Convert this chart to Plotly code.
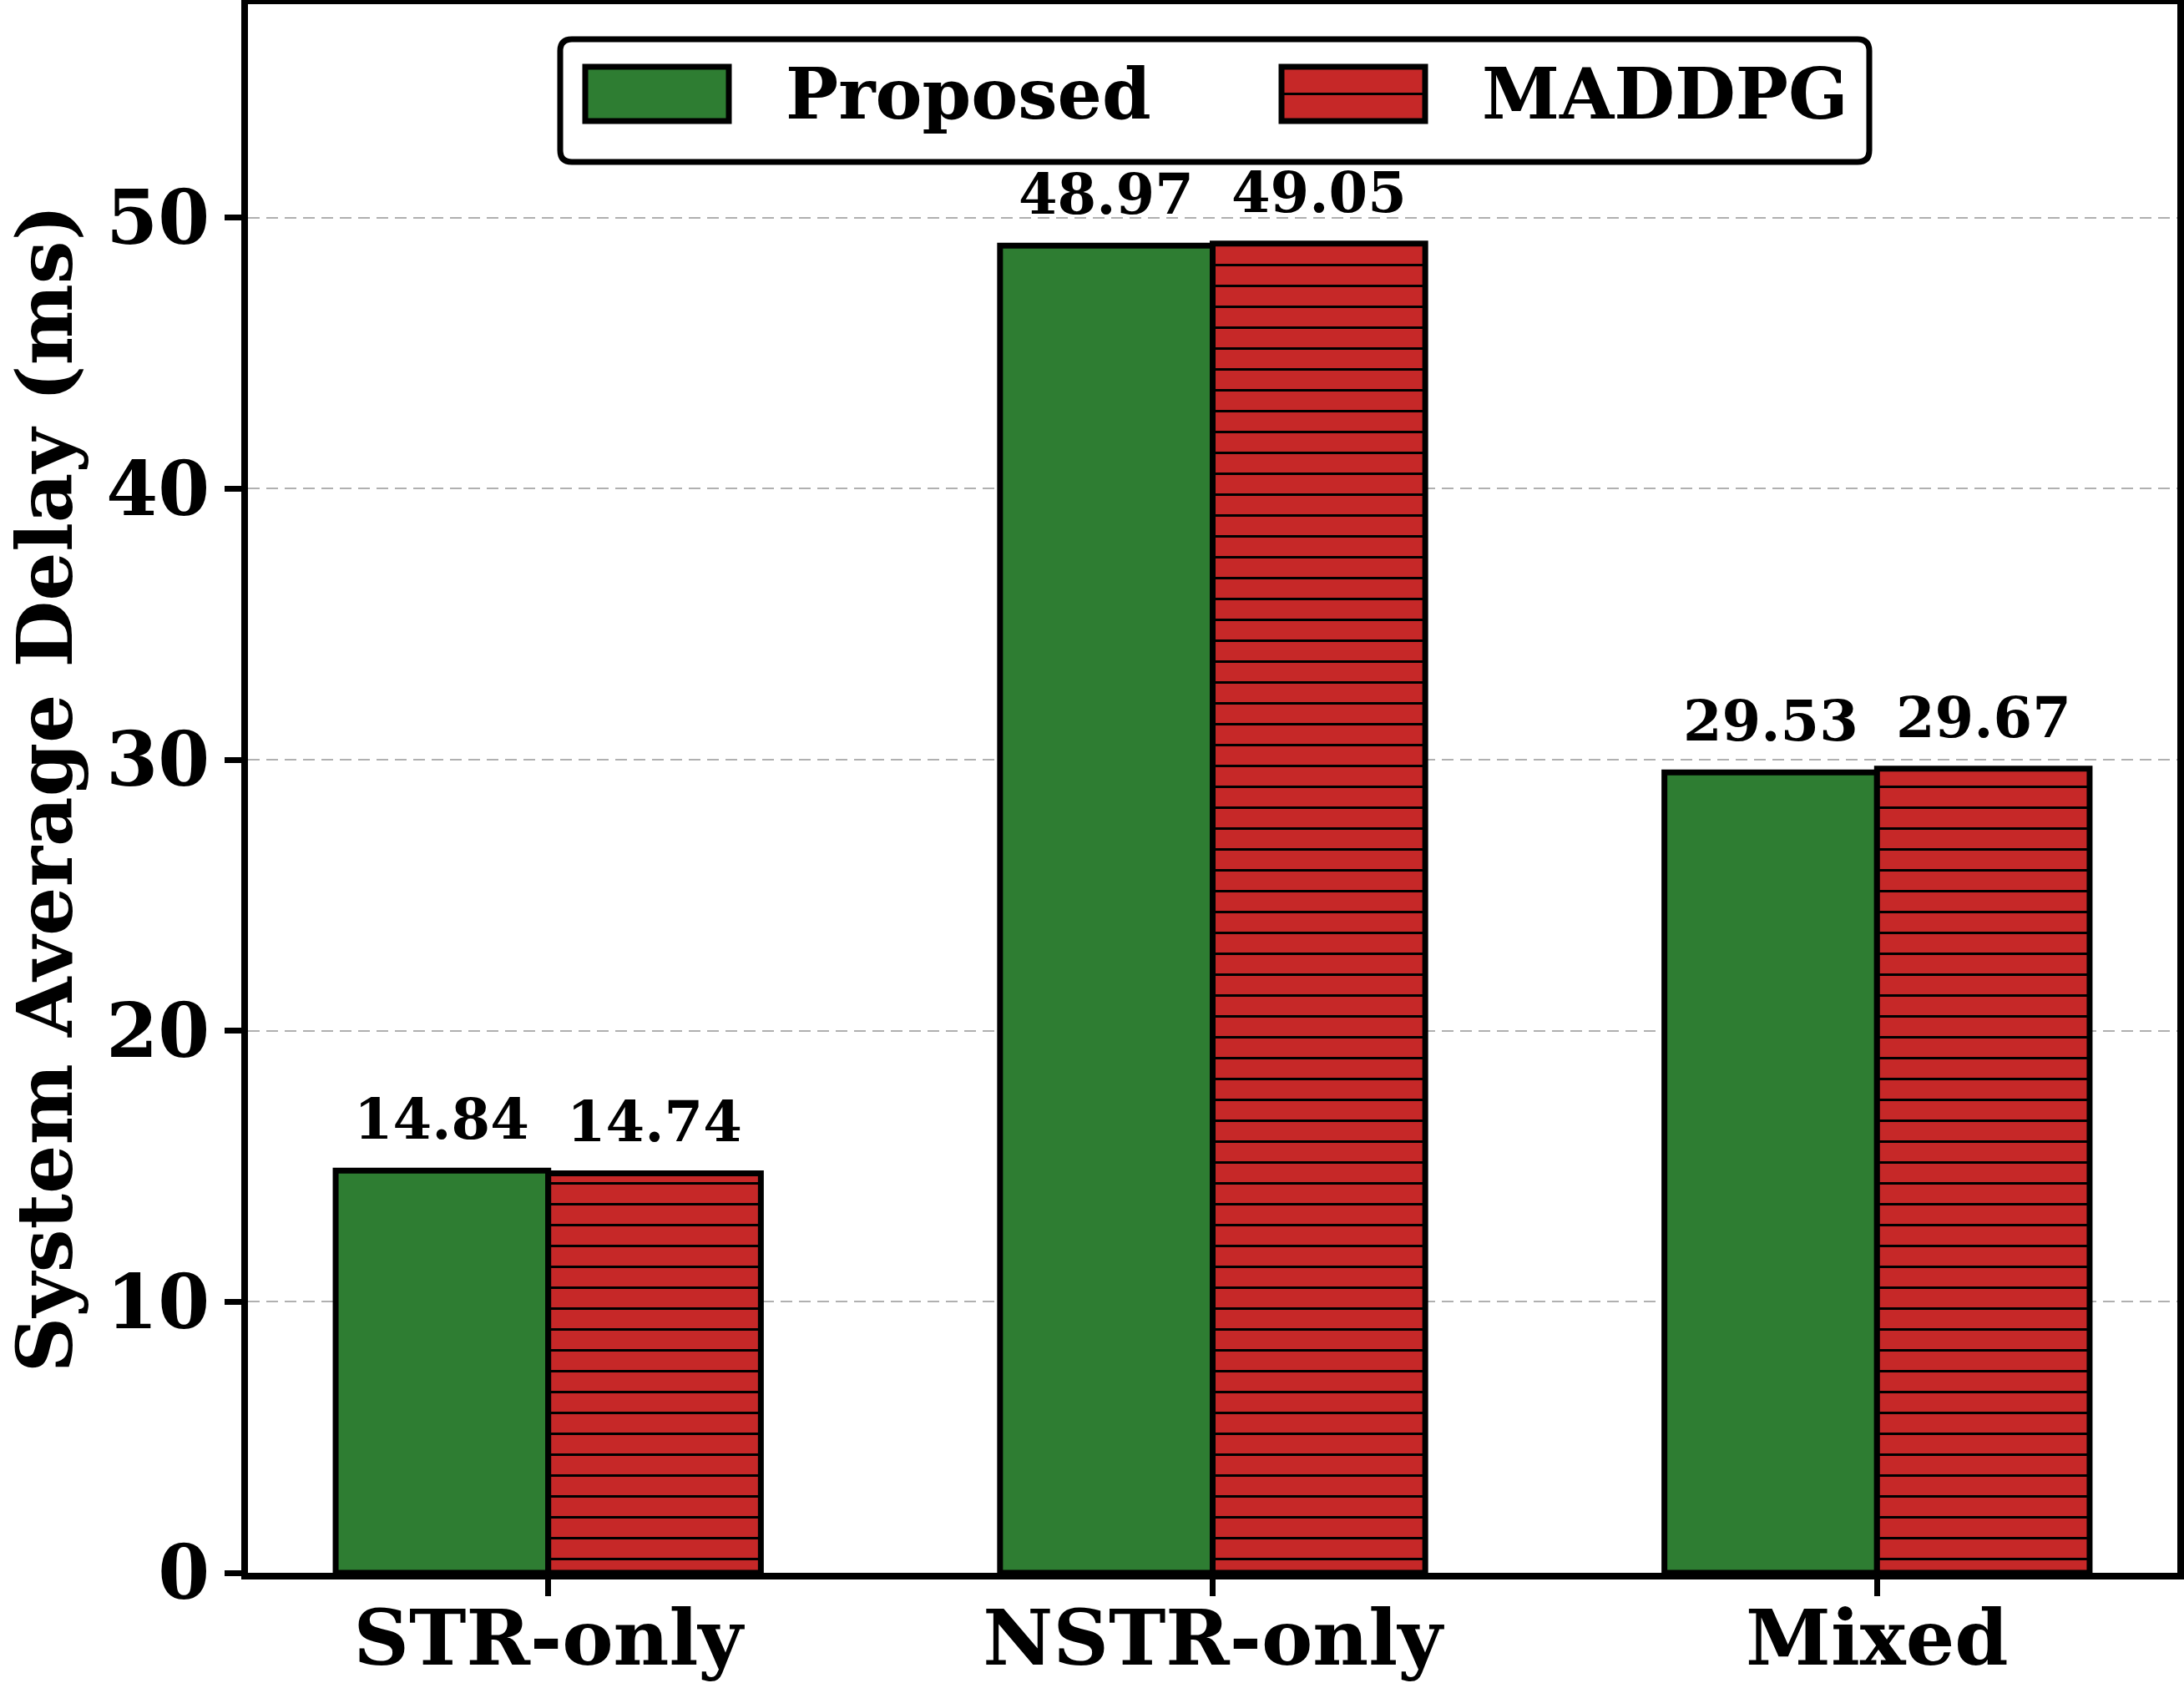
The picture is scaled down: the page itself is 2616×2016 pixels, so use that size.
import plotly.graph_objects as go

# ---- data ----
categories = ["STR-only", "NSTR-only", "Mixed"]
proposed = [14.84, 48.97, 29.53]
maddpg = [14.74, 49.05, 29.67]
series_names = ["Proposed", "MADDPG"]
y_ticks = [0, 10, 20, 30, 40, 50]

GREEN = "#2E7D32"
RED = "#C62828"
FONT = "DejaVu Serif"

W, H = 2616, 2016
L, R, T, B = 297, 8, 5, 132
PW, PH = W - L - R, H - T - B

BAR_W = 0.32
xpos = list(range(len(categories)))
ymax = max(max(proposed), max(maddpg)) * 1.18

fig = go.Figure()
fig.add_trace(go.Bar(
    x=xpos, y=proposed, name=series_names[0], width=BAR_W, offset=-BAR_W,
    marker=dict(color=GREEN, line=dict(color="black", width=7)),
    showlegend=False,
))
fig.add_trace(go.Bar(
    x=xpos, y=maddpg, name=series_names[1], width=BAR_W, offset=0,
    marker=dict(color=RED, line=dict(color="black", width=7),
                pattern=dict(shape="-", size=25, solidity=0.12,
                             fgcolor="black", fgopacity=1, fillmode="overlay")),
    showlegend=False,
))

annotations = []
for i in xpos:
    for val, dx in ((proposed[i], -BAR_W / 2), (maddpg[i], BAR_W / 2)):
        annotations.append(dict(
            x=i + dx, y=val, xref="x", yref="y", text=f"{val:.2f}",
            showarrow=False, yanchor="bottom", xanchor="center", yshift=20,
            font=dict(family=FONT, size=67, color="black", weight="bold"),
        ))

# ---- custom legend (paper coords from pixel positions) ----
def px_x(p):
    return (p - L) / PW

def px_y(p):
    return (H - B - p) / PH

shapes = []
bx0, bx1, by0, by1 = px_x(671), px_x(2239), px_y(47), px_y(194)
rx, ry = 14 / PW, 14 / PH
path = (f"M{bx0+rx},{by0} L{bx1-rx},{by0} Q{bx1},{by0} {bx1},{by0-ry} "
        f"L{bx1},{by1+ry} Q{bx1},{by1} {bx1-rx},{by1} L{bx0+rx},{by1} "
        f"Q{bx0},{by1} {bx0},{by1+ry} L{bx0},{by0-ry} Q{bx0},{by0} {bx0+rx},{by0} Z")
shapes.append(dict(type="path", xref="paper", yref="paper", path=path,
                   fillcolor="white", line=dict(color="black", width=7), layer="above"))
sy0, sy1 = px_y(80), px_y(145)
shapes.append(dict(type="rect", xref="paper", yref="paper", x0=px_x(701), x1=px_x(873),
                   y0=sy0, y1=sy1, fillcolor=GREEN, line=dict(color="black", width=7),
                   layer="above"))
shapes.append(dict(type="rect", xref="paper", yref="paper", x0=px_x(1535), x1=px_x(1707),
                   y0=sy0, y1=sy1, fillcolor=RED, line=dict(color="black", width=7),
                   layer="above"))
shapes.append(dict(type="line", xref="paper", yref="paper", x0=px_x(1535), x1=px_x(1707),
                   y0=(sy0 + sy1) / 2, y1=(sy0 + sy1) / 2, line=dict(color="black", width=3),
                   layer="above"))
for name, xl in ((series_names[0], 939), (series_names[1], 1773)):
    annotations.append(dict(
        x=px_x(xl), y=px_y(113), xref="paper", yref="paper", text=name,
        showarrow=False, xanchor="left", yanchor="middle",
        font=dict(family=FONT, size=84, color="black", weight="bold"),
    ))

fig.update_layout(
    width=W, height=H,
    margin=dict(l=L, r=R, t=T, b=B, autoexpand=False),
    paper_bgcolor="white", plot_bgcolor="white",
    barmode="overlay",
    font=dict(family=FONT, color="black"),
    annotations=annotations, shapes=shapes,
    showlegend=False,
)
fig.update_xaxes(
    range=[-0.452, 2.452], tickmode="array", tickvals=xpos, ticktext=categories,
    showline=True, linecolor="black", linewidth=8, mirror=True,
    ticks="outside", ticklen=20, tickwidth=7, tickcolor="black",
    ticklabelstandoff=-28,
    tickfont=dict(family=FONT, size=92, color="black", weight="bold"),
    showgrid=False, zeroline=False, automargin=False,
)
fig.update_yaxes(
    range=[0, ymax], tickmode="array", tickvals=y_ticks,
    showline=True, linecolor="black", linewidth=8, mirror=True,
    ticks="outside", ticklen=20, tickwidth=7, tickcolor="black",
    tickfont=dict(family=FONT, size=89, color="black", weight="bold"),
    showgrid=True, gridcolor="#b0b0b0", gridwidth=2, griddash="14px,8px",
    zeroline=False, automargin=False,
    title=dict(text="System Average Delay (ms)", standoff=42,
               font=dict(family=FONT, size=92, color="black", weight="bold")),
)

fig.write_html("out.html")
